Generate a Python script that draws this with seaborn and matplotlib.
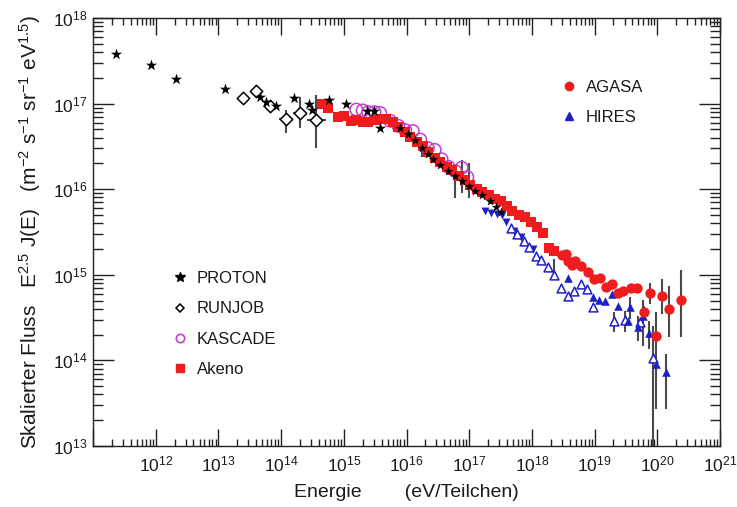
import numpy as np
import pandas as pd
import matplotlib
matplotlib.use("Agg")
import matplotlib.pyplot as plt
import seaborn as sns
from matplotlib.ticker import FixedLocator, LogLocator, NullFormatter, FuncFormatter
from matplotlib.lines import Line2D

nan = np.nan
# ---- data: log10(E / eV) and log10(E^2.5 J(E)) ----
proton_logE = [11.37, 11.92, 12.32, 13.10, 13.67, 13.76, 13.92, 14.21, 14.45, 14.49, 14.77, 15.04, 15.37, 15.48, 15.57]
proton_logF = [17.58, 17.45, 17.29, 17.17, 17.08, 17.02, 16.97, 17.06, 17.00, 16.92, 17.04, 17.00, 16.91, 16.91, 16.72]

runjob_logE = [13.39, 13.60, 13.83, 14.08, 14.30, 14.56]
runjob_logF = [17.07, 17.15, 16.97, 16.82, 16.89, 16.81]
runjob_logF_lo = [nan, nan, nan, 16.66, 16.71, 16.48]
runjob_logF_hi = [nan, nan, nan, 16.93, 17.08, 17.10]
runjob_logE_lo = [nan, nan, nan, 13.96, 14.19, 14.42]
runjob_logE_hi = [nan, nan, nan, 14.17, 14.39, 14.71]

kascade_logE = [15.20, 15.30, 15.39, 15.49, 15.58, 15.74, 15.87, 15.98, 16.10, 16.22, 16.34, 16.45, 16.56, 16.67, 16.78, 16.88, 16.97]
kascade_logF = [16.93, 16.92, 16.90, 16.90, 16.89, 16.80, 16.74, 16.69, 16.68, 16.58, 16.48, 16.46, 16.35, 16.26, 16.21, 16.25, 16.14]

other_logE = [15.90, 16.03, 16.14, 16.24, 16.34, 16.43, 16.54, 16.66, 16.77, 16.88, 16.99, 17.10, 17.21, 17.33, 17.42, 17.50]
other_logF = [16.72, 16.65, 16.57, 16.48, 16.41, 16.35, 16.28, 16.21, 16.15, 16.09, 16.04, 15.98, 15.93, 15.86, 15.79, 15.73]
other_logF_lo = [nan, nan, nan, 16.38, nan, nan, nan, nan, 15.90, 15.96, 15.90, nan, nan, nan, nan, nan]
other_logF_hi = [nan, nan, nan, 16.54, nan, nan, nan, nan, 16.25, 16.34, 16.31, nan, nan, nan, nan, nan]

akeno_logE = [14.66, 14.75, 14.91, 15.01, 15.11, 15.20, 15.30, 15.39, 15.49, 15.58, 15.68, 15.78, 15.87, 15.97,
              16.06, 16.16, 16.26, 16.35, 16.45, 16.54, 16.64, 16.73, 16.83, 16.93, 17.02, 17.12, 17.21, 17.31,
              17.41, 17.50, 17.60, 17.69, 17.79, 17.89, 17.98, 18.08, 18.17, 18.27, 18.36]
akeno_logF = [16.99, 16.95, 16.84, 16.85, 16.80, 16.81, 16.78, 16.79, 16.81, 16.82, 16.82, 16.79, 16.73, 16.67,
              16.61, 16.55, 16.50, 16.44, 16.37, 16.32, 16.26, 16.22, 16.16, 16.11, 16.05, 16.00, 15.97, 15.93,
              15.89, 15.86, 15.80, 15.74, 15.70, 15.67, 15.62, 15.56, 15.49, 15.31, 15.28]

agasa_logE = [18.48, 18.55, 18.57, 18.64, 18.68, 18.78, 18.89, 18.99, 19.08, 19.18, 19.27, 19.37, 19.45, 19.58,
              19.67, 19.79, 19.88, 19.98, 20.07, 20.19, 20.38]
agasa_logF = [15.23, 15.24, 15.16, 15.12, 15.16, 15.10, 15.03, 14.95, 14.96, 14.86, 14.89, 14.79, 14.81, 14.85,
              14.85, 14.57, 14.79, 14.28, 14.75, 14.60, 14.71]
agasa_logF_lo = [nan] * 15 + [14.50, 14.66, 13.43, 14.54, 14.27, 14.27]
agasa_logF_hi = [nan] * 15 + [14.64, 14.91, 14.56, 14.95, 14.87, 15.06]

hires_down_logE = [17.25, 17.34, 17.44, 17.52, 17.58, 17.71, 17.82, 18.01]
hires_down_logF = [15.74, 15.72, 15.71, 15.70, 15.62, 15.51, 15.44, 15.30]

hires_open_logE = [17.66, 17.76, 17.87, 17.95, 18.06, 18.14, 18.25, 18.35, 18.46, 18.57, 18.67, 18.78, 18.88,
                   18.97, 19.31, 19.48, 19.72, 19.93]
hires_open_logF = [15.55, 15.48, 15.39, 15.32, 15.22, 15.17, 15.09, 15.00, 14.85, 14.75, 14.81, 14.89, 14.83,
                   14.62, 14.46, 14.47, 14.45, 14.03]
hires_open_logF_lo = [nan] * 7 + [14.95] + [nan] * 6 + [14.33, 14.33, nan, 12.90]
hires_open_logF_hi = [nan] * 7 + [15.19] + [nan] * 6 + [14.56, 14.58, nan, 14.40]

hires_logE = [18.57, 18.97, 19.07, 19.16, 19.27, 19.37, 19.53, 19.56, 19.69, 19.77, 19.87, 19.98, 20.14]
hires_logF = [14.96, 14.74, 14.71, 14.69, 14.77, 14.63, 14.46, 14.62, 14.39, 14.52, 14.32, 13.96, 13.86]
hires_logF_lo = [nan] * 7 + [14.48, 14.23, 14.17, 14.13, nan, 13.43]
hires_logF_hi = [nan] * 7 + [14.74, 14.52, 14.71, 14.46, nan, 14.07]

x_tick_exps = [12, 13, 14, 15, 16, 17, 18, 19, 20, 21]
y_tick_exps = [13, 14, 15, 16, 17, 18]

# ---- style ----
sns.set_style("ticks")
plt.rcParams["font.family"] = ["Liberation Sans", "DejaVu Sans"]
plt.rcParams["mathtext.fontset"] = "custom"
plt.rcParams["mathtext.rm"] = "Liberation Sans"
plt.rcParams["mathtext.it"] = "Liberation Sans:italic"
plt.rcParams["mathtext.bf"] = "Liberation Sans:bold"
plt.rcParams["mathtext.default"] = "regular"

TXT = "#1a1a1a"
RED = "#ee1c1c"
BLUE = "#1f1fc8"
MAG = "#c040d0"
ERR = "#4a4a4a"

fig = plt.figure(figsize=(7.37, 5.07), dpi=100)
ax = fig.add_axes([93 / 737, 1 - 446 / 507, 627 / 737, 428 / 507])
ax.set_xscale("log")
ax.set_yscale("log")
ax.set_xlim(1e11, 1e21)
ax.set_ylim(1e13, 1e18)


def df(le, lf):
    return pd.DataFrame({"E": np.power(10.0, le), "F": np.power(10.0, lf)})


def errs(le, lf, flo, fhi, elo=None, ehi=None):
    le = np.array(le); lf = np.array(lf)
    flo = np.array(flo); fhi = np.array(fhi)
    m = ~np.isnan(flo)
    E = 10 ** le[m]; F = 10 ** lf[m]
    yerr = [F - 10 ** flo[m], 10 ** fhi[m] - F]
    xerr = None
    if elo is not None:
        elo = np.array(elo)[m]; ehi = np.array(ehi)[m]
        xerr = [E - 10 ** elo, 10 ** ehi - E]
    ax.errorbar(E, F, yerr=yerr, xerr=xerr, fmt="none", ecolor=ERR, elinewidth=1.5, capsize=0, zorder=2)


errs(runjob_logE, runjob_logF, runjob_logF_lo, runjob_logF_hi, runjob_logE_lo, runjob_logE_hi)
errs(other_logE, other_logF, other_logF_lo, other_logF_hi)
errs(agasa_logE, agasa_logF, agasa_logF_lo, agasa_logF_hi)
errs(hires_open_logE, hires_open_logF, hires_open_logF_lo, hires_open_logF_hi)
errs(hires_logE, hires_logF, hires_logF_lo, hires_logF_hi)

d = df(kascade_logE, kascade_logF)
sns.scatterplot(data=d, x="E", y="F", ax=ax, marker="o", s=80, facecolors="none", edgecolors=MAG,
                linewidth=1.1, zorder=3, legend=False)
d = df(akeno_logE, akeno_logF)
sns.scatterplot(data=d, x="E", y="F", ax=ax, marker="s", s=55, color=RED, edgecolor=RED, linewidth=0,
                zorder=4, legend=False)
d = df(other_logE, other_logF)
sns.scatterplot(data=d, x="E", y="F", ax=ax, marker="*", s=40, color="black", edgecolor="black",
                linewidth=0.3, zorder=5, legend=False)
d = df(hires_down_logE, hires_down_logF)
sns.scatterplot(data=d, x="E", y="F", ax=ax, marker="v", s=32, color=BLUE, edgecolor=BLUE, linewidth=0,
                zorder=4, legend=False)
d = df(hires_open_logE, hires_open_logF)
sns.scatterplot(data=d, x="E", y="F", ax=ax, marker="^", s=40, facecolors="white", edgecolors=BLUE,
                linewidth=1.1, zorder=4, legend=False)
d = df(hires_logE, hires_logF)
sns.scatterplot(data=d, x="E", y="F", ax=ax, marker="^", s=38, color=BLUE, edgecolor=BLUE, linewidth=0,
                zorder=4, legend=False)
d = df(agasa_logE, agasa_logF)
sns.scatterplot(data=d, x="E", y="F", ax=ax, marker="o", s=55, color=RED, edgecolor=RED, linewidth=0,
                zorder=5, legend=False)
d = df(runjob_logE, runjob_logF)
sns.scatterplot(data=d, x="E", y="F", ax=ax, marker="D", s=40, facecolors="white", edgecolors="black",
                linewidth=1.1, zorder=5, legend=False)
d = df(proton_logE, proton_logF)
sns.scatterplot(data=d, x="E", y="F", ax=ax, marker="*", s=72, color="black", edgecolor="black",
                linewidth=0, zorder=6, legend=False)

# ---- axes / ticks ----
ax.xaxis.set_major_locator(FixedLocator([10.0 ** e for e in [11] + x_tick_exps]))
ax.yaxis.set_major_locator(FixedLocator([10.0 ** e for e in y_tick_exps]))
ax.xaxis.set_minor_locator(LogLocator(base=10, subs=np.arange(2, 10), numticks=30))
ax.yaxis.set_minor_locator(LogLocator(base=10, subs=np.arange(2, 10), numticks=30))
ax.xaxis.set_minor_formatter(NullFormatter())
ax.yaxis.set_minor_formatter(NullFormatter())


def xfmt(v, pos):
    e = int(round(np.log10(v)))
    return r"$10^{%d}$" % e if e in x_tick_exps else ""


def yfmt(v, pos):
    e = int(round(np.log10(v)))
    return r"$10^{%d}$" % e


ax.xaxis.set_major_formatter(FuncFormatter(xfmt))
ax.yaxis.set_major_formatter(FuncFormatter(yfmt))
ax.tick_params(which="both", direction="in", top=True, right=True, colors="#222222", width=1.0,
               labelsize=12.5, labelcolor=TXT)
ax.xaxis.set_tick_params(which="major", length=12, pad=6)
ax.xaxis.set_tick_params(which="minor", length=5)
ax.yaxis.set_tick_params(which="major", length=15, pad=4)
ax.yaxis.set_tick_params(which="minor", length=7)
for sp in ax.spines.values():
    sp.set_visible(True)
    sp.set_color("#222222")
    sp.set_linewidth(1.0)

ax.set_xlabel("Energie        (eV/Teilchen)", fontsize=14, color=TXT, labelpad=7)
ax.set_ylabel(r"Skalierter Fluss   E$^{2.5}$ J(E)   (m$^{-2}$ s$^{-1}$ sr$^{-1}$ eV$^{1.5}$)",
              fontsize=15, color=TXT, labelpad=7)

# ---- legends ----
h1 = [Line2D([], [], ls="none", marker="*", ms=7, mfc="black", mec="black"),
      Line2D([], [], ls="none", marker="D", ms=4.5, mfc="white", mec="black", mew=1.1),
      Line2D([], [], ls="none", marker="o", ms=6, mfc="none", mec=MAG, mew=1.2),
      Line2D([], [], ls="none", marker="s", ms=5.5, mfc=RED, mec=RED)]
leg1 = ax.legend(h1, ["PROTON", "RUNJOB", "KASCADE", "Akeno"], loc="upper left",
                 bbox_to_anchor=((157 - 93) / 627, (446 - 256) / 428), frameon=False, fontsize=12,
                 labelspacing=0.92, handletextpad=0.5, handlelength=1.0, labelcolor=TXT)
ax.add_artist(leg1)
h2 = [Line2D([], [], ls="none", marker="o", ms=6, mfc=RED, mec=RED),
      Line2D([], [], ls="none", marker="^", ms=6, mfc=BLUE, mec=BLUE)]
ax.legend(h2, ["AGASA", "HIRES"], loc="upper left",
          bbox_to_anchor=((546 - 93) / 627, (446 - 65) / 428), frameon=False, fontsize=12,
          labelspacing=0.92, handletextpad=0.5, handlelength=1.0, labelcolor=TXT)

fig.savefig("out.png", dpi=100)
